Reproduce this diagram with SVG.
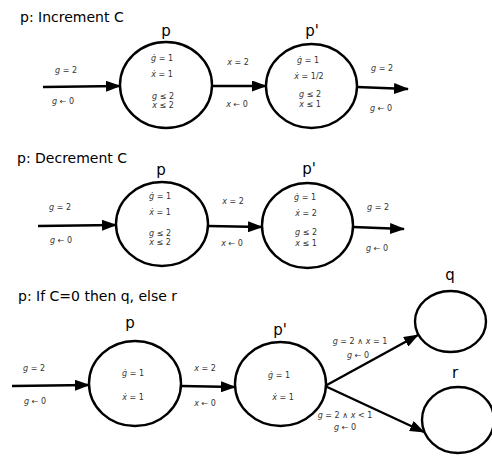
<svg xmlns="http://www.w3.org/2000/svg" width="492" height="456" viewBox="0 0 492 456">
<defs>
<marker id="ah" viewBox="0 0 15 11" refX="14" refY="5.5" markerWidth="15" markerHeight="11" markerUnits="userSpaceOnUse" orient="auto">
<path d="M0,0 L15,5.5 L0,11 z" fill="#000"/>
</marker>
</defs>
<style>
.title{font-family:"DejaVu Sans",sans-serif;font-size:14px;fill:#000}
.nl{font-family:"DejaVu Sans",sans-serif;font-size:15px;fill:#000;text-anchor:middle}
.s{font-family:"DejaVu Sans",sans-serif;font-size:8px;fill:#333;text-anchor:middle}
.v{font-style:italic}
.st{fill:#fff;stroke:#000;stroke-width:2.4}
.e{fill:none;stroke:#000;stroke-width:2.4;marker-end:url(#ah)}
</style>
<rect width="492" height="456" fill="#fff"/>
<text class="title" x="20" y="22">p: Increment C</text>
<text class="title" x="17" y="163">p: Decrement C</text>
<text class="title" x="18" y="301">p: If C=0 then q, else r</text>

<g id="connectors">
<path class="e" d="M43,87 L120,86"/>
<path class="e" d="M212,86 L266,86"/>
<path class="e" d="M357,87 L408,89"/>
<path class="e" d="M38,226 L116,225"/>
<path class="e" d="M208,226 L262,227"/>
<path class="e" d="M353,227 L404,229"/>
<path class="e" d="M12,386 L89,385"/>
<path class="e" d="M181,386 L235,387"/>
<path class="e" d="M325,386 L418,335"/>
<path class="e" d="M325,386 L424,432"/>
<text class="s" x="66" y="73"><tspan class="v">g</tspan> = 2</text>
<text class="s" x="63" y="104"><tspan class="v">g</tspan> ← 0</text>
<text class="s" x="238" y="65"><tspan class="v">x</tspan> = 2</text>
<text class="s" x="237" y="107"><tspan class="v">x</tspan> ← 0</text>
<text class="s" x="382" y="71"><tspan class="v">g</tspan> = 2</text>
<text class="s" x="381" y="111"><tspan class="v">g</tspan> ← 0</text>
<text class="s" x="60" y="210"><tspan class="v">g</tspan> = 2</text>
<text class="s" x="61" y="243"><tspan class="v">g</tspan> ← 0</text>
<text class="s" x="233" y="204"><tspan class="v">x</tspan> = 2</text>
<text class="s" x="232" y="246"><tspan class="v">x</tspan> ← 0</text>
<text class="s" x="378" y="210"><tspan class="v">g</tspan> = 2</text>
<text class="s" x="377" y="251"><tspan class="v">g</tspan> ← 0</text>
<text class="s" x="34" y="371"><tspan class="v">g</tspan> = 2</text>
<text class="s" x="35" y="404"><tspan class="v">g</tspan> ← 0</text>
<text class="s" x="205" y="371"><tspan class="v">x</tspan> = 2</text>
<text class="s" x="205" y="406"><tspan class="v">x</tspan> ← 0</text>
<text class="s" x="360" y="344"><tspan class="v">g</tspan> = 2 ∧ <tspan class="v">x</tspan> = 1</text>
<text class="s" x="358" y="358"><tspan class="v">g</tspan> ← 0</text>
<text class="s" x="345" y="418"><tspan class="v">g</tspan> = 2 ∧ <tspan class="v">x</tspan> &lt; 1</text>
<text class="s" x="345" y="430"><tspan class="v">g</tspan> ← 0</text>
</g>

<g id="inc-p">
<ellipse class="st" cx="166" cy="85" rx="46" ry="43"/>
<text class="nl" x="166" y="36">p</text>
<text class="s" x="162" y="61"><tspan class="v">ġ</tspan> = 1</text>
<text class="s" x="162" y="77"><tspan class="v">ẋ</tspan> = 1</text>
<text class="s" x="163" y="99"><tspan class="v">g</tspan> ≤ 2</text>
<text class="s" x="163" y="108"><tspan class="v">x</tspan> ≤ 2</text>
</g>
<g id="inc-p2">
<ellipse class="st" cx="311.5" cy="86" rx="45.5" ry="42"/>
<text class="nl" x="312" y="36">p'</text>
<text class="s" x="308" y="63"><tspan class="v">ġ</tspan> = 1</text>
<text class="s" x="309" y="79"><tspan class="v">ẋ</tspan> = 1/2</text>
<text class="s" x="310" y="97"><tspan class="v">g</tspan> ≤ 2</text>
<text class="s" x="310" y="107"><tspan class="v">x</tspan> ≤ 1</text>
</g>

<g id="dec-p">
<ellipse class="st" cx="162" cy="224" rx="46" ry="42"/>
<text class="nl" x="161" y="175">p</text>
<text class="s" x="160" y="199"><tspan class="v">ġ</tspan> = 1</text>
<text class="s" x="160" y="215"><tspan class="v">ẋ</tspan> = 1</text>
<text class="s" x="160" y="236"><tspan class="v">g</tspan> ≤ 2</text>
<text class="s" x="160" y="245"><tspan class="v">x</tspan> ≤ 2</text>
</g>
<g id="dec-p2">
<ellipse class="st" cx="307.5" cy="225.5" rx="45.5" ry="42.5"/>
<text class="nl" x="309" y="174">p'</text>
<text class="s" x="305" y="200"><tspan class="v">ġ</tspan> = 1</text>
<text class="s" x="306" y="216"><tspan class="v">ẋ</tspan> = 2</text>
<text class="s" x="306" y="235"><tspan class="v">g</tspan> ≤ 2</text>
<text class="s" x="306" y="246"><tspan class="v">x</tspan> ≤ 1</text>
</g>

<g id="if-p">
<ellipse class="st" cx="135" cy="383.5" rx="46" ry="42.5"/>
<text class="nl" x="130" y="328">p</text>
<text class="s" x="133" y="376"><tspan class="v">ġ</tspan> = 1</text>
<text class="s" x="133" y="400"><tspan class="v">ẋ</tspan> = 1</text>
</g>
<g id="if-p2">
<ellipse class="st" cx="280.5" cy="384" rx="45.5" ry="42"/>
<text class="nl" x="280" y="335">p'</text>
<text class="s" x="279" y="378"><tspan class="v">ġ</tspan> = 1</text>
<text class="s" x="283" y="400"><tspan class="v">ẋ</tspan> = 1</text>
</g>
<g id="if-q">
<ellipse class="st" cx="450.5" cy="321.5" rx="35.5" ry="30.5"/>
<text class="nl" x="450" y="280">q</text>
</g>
<g id="if-r">
<ellipse class="st" cx="458" cy="420" rx="36" ry="33"/>
<text class="nl" x="455" y="378">r</text>
</g>
</svg>
